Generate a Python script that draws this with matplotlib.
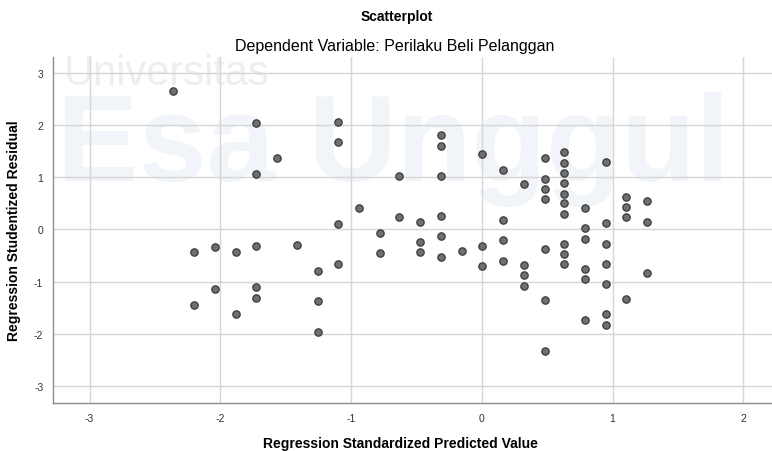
import matplotlib
matplotlib.use("Agg")
import matplotlib.pyplot as plt

plt.rcParams['font.family'] = ['Liberation Sans', 'DejaVu Sans']
plt.rcParams['axes.unicode_minus'] = False

# predicted value (standardized) and studentized residual
pred = [-2.36,
        -2.20, -2.20,
        -2.04, -2.04,
        -1.88, -1.88,
        -1.73, -1.73, -1.73, -1.73, -1.73,
        -1.57, -1.41,
        -1.25, -1.25, -1.25,
        -1.10, -1.10, -1.10, -1.10,
        -0.94,
        -0.78, -0.78,
        -0.63, -0.63,
        -0.47, -0.47, -0.47,
        -0.31, -0.31, -0.31, -0.31, -0.31, -0.31,
        -0.15,
        0.00, 0.00, 0.00,
        0.16, 0.16, 0.16, 0.16,
        0.32, 0.32, 0.32, 0.32,
        0.48, 0.48, 0.48, 0.48, 0.48, 0.48, 0.48,
        0.63, 0.63, 0.63, 0.63, 0.63, 0.63, 0.63, 0.63, 0.63, 0.63,
        0.79, 0.79, 0.79, 0.79, 0.79, 0.79,
        0.95, 0.95, 0.95, 0.95, 0.95, 0.95, 0.95,
        1.105, 1.105, 1.105, 1.105,
        1.26, 1.26, 1.26]
resid = [2.65,
         -0.44, -1.45,
         -0.34, -1.14,
         -0.43, -1.62,
         2.05, 1.06, -0.32, -1.11, -1.31,
         1.37, -0.30,
         -0.79, -1.38, -1.96,
         2.07, 1.68, 0.11, -0.67,
         0.42,
         -0.06, -0.45,
         1.02, 0.24,
         0.15, -0.24, -0.44,
         1.81, 1.61, 1.03, 0.25, -0.13, -0.52,
         -0.42,
         1.44, -0.31, -0.70,
         1.15, 0.18, -0.21, -0.60,
         0.87, -0.69, -0.88, -1.08,
         1.37, 0.97, 0.78, 0.59, -0.38, -1.36, -2.34,
         1.48, 1.27, 1.08, 0.89, 0.69, 0.50, 0.30, -0.28, -0.48, -0.67,
         0.41, 0.02, -0.18, -0.76, -0.96, -1.74,
         1.30, 0.12, -0.27, -0.66, -1.05, -1.63, -1.83,
         0.63, 0.43, 0.23, -1.34,
         0.54, 0.14, -0.84]

xticks = [-3, -2, -1, 0, 1, 2]
yticks = [-3, -2, -1, 0, 1, 2, 3]

fig = plt.figure(figsize=(7.72, 4.52), dpi=100)
ax = fig.add_axes([0.0687, 0.1062, 0.9313, 0.7655])

# faint watermark sitting behind the points
ax.text(0.015, 0.955, "Universitas", transform=ax.transAxes, fontsize=30,
        color="#eceef1", ha="left", va="center", zorder=0.5)
ax.text(0.005, 0.735, "Esa Unggul", transform=ax.transAxes, fontsize=88,
        fontweight="bold", color="#f1f4f8", ha="left", va="center", zorder=0.5)

ax.scatter(pred, resid, s=28, facecolor="#6f6f6f", edgecolor="#3a3a3a",
           linewidths=0.9, zorder=3)

ax.set_xlim(-3.28, 2.22)
ax.set_ylim(-3.33, 3.31)
ax.set_xticks(xticks)
ax.set_yticks(yticks)
ax.grid(True, color="#d6d6d6", linewidth=1.0, zorder=1)

for s in ["top", "right"]:
    ax.spines[s].set_visible(False)
for s in ["left", "bottom"]:
    ax.spines[s].set_color("#8c8c8c")
    ax.spines[s].set_linewidth(1.0)

ax.tick_params(length=0, labelsize=7.5, colors="#333333", pad=7)

fig.text(0.514, 0.962, "Scatterplot", fontsize=10, fontweight="bold",
         ha="center", va="center")
fig.text(0.511, 0.898, "Dependent Variable: Perilaku Beli Pelanggan",
         fontsize=11.5, ha="center", va="center")
ax.set_xlabel("Regression Standardized Predicted Value", fontsize=10,
              fontweight="bold")
ax.xaxis.set_label_coords(0.483, -0.095)
ax.set_ylabel("Regression Studentized Residual", fontsize=10,
              fontweight="bold", labelpad=9)

fig.savefig("out.png", dpi=100)
